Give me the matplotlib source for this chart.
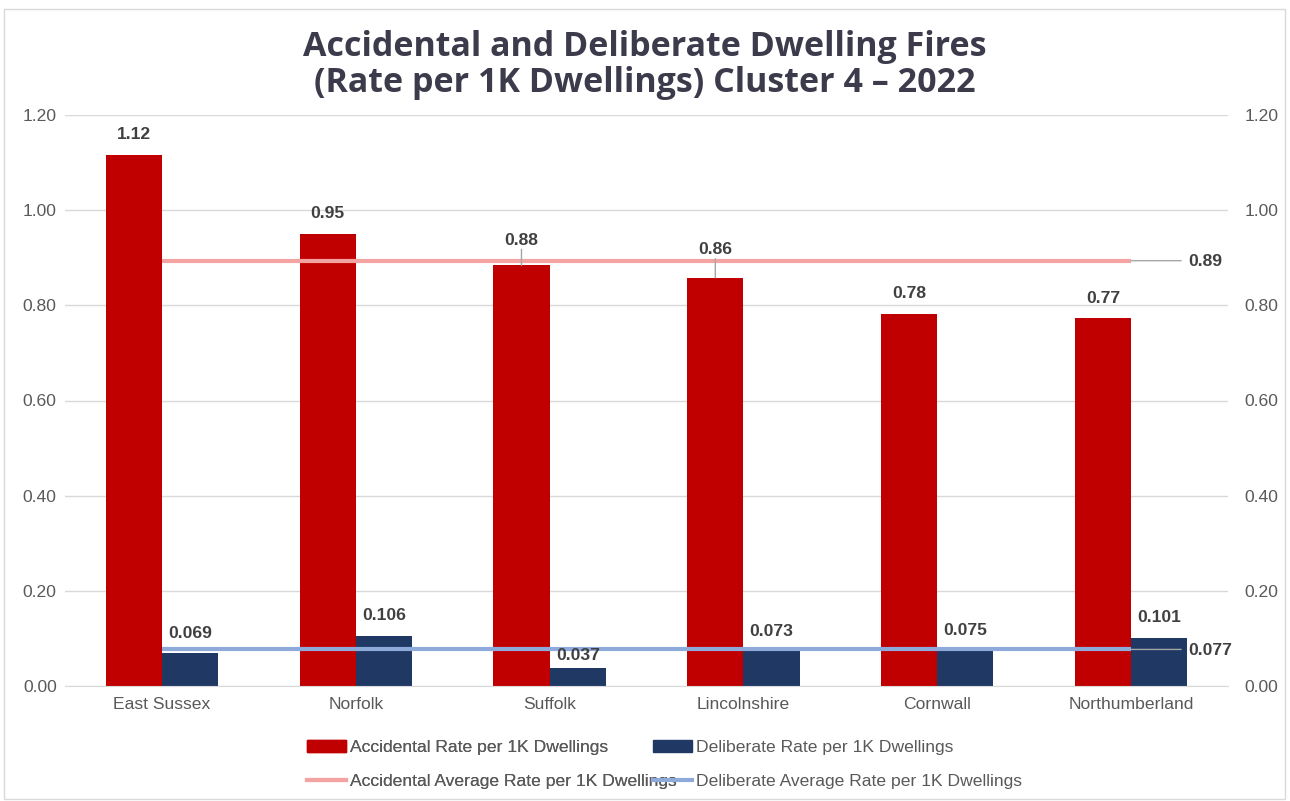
import matplotlib
matplotlib.use("Agg")
import matplotlib.pyplot as plt
from matplotlib.patches import Rectangle, Patch
from matplotlib.lines import Line2D
import numpy as np

# ---- data ----
areas = ["East Sussex", "Norfolk", "Suffolk", "Lincolnshire", "Cornwall", "Northumberland"]
accidental = [1.116, 0.950, 0.884, 0.858, 0.782, 0.773]
deliberate = [0.069, 0.106, 0.037, 0.073, 0.075, 0.101]
y_ticks = [0.0, 0.2, 0.4, 0.6, 0.8, 1.0, 1.2]

acc_avg = float(np.mean(accidental))
del_avg = float(np.mean(deliberate))

# ---- style ----
RED = "#c00000"
NAVY = "#1f3864"
PINK = "#f4a3a3"
LIGHTBLUE = "#8eaadb"
TXT = "#595959"
LBL = "#404040"
FS = 12.6
plt.rcParams["font.family"] = ["Liberation Sans", "DejaVu Sans"]

W, H = 1290, 801
fig = plt.figure(figsize=(W / 100, H / 100), dpi=100)

# outer chart border
fig.patches.append(Rectangle((4 / W, 2 / H), 1281 / W, 790 / H, transform=fig.transFigure,
                             fill=False, edgecolor="#d9d9d9", linewidth=1))

ax = fig.add_axes([65 / W, 1 - 686 / H, (1228 - 65) / W, 571 / H])
x = np.arange(len(areas))
bw = 0.29

ax.bar(x - bw / 2, accidental, width=bw, color=RED, zorder=2)
ax.bar(x + bw / 2, deliberate, width=bw, color=NAVY, zorder=2)

ax.plot([x[0], x[-1]], [acc_avg, acc_avg], color=PINK, lw=3, zorder=3, solid_capstyle="butt")
ax.plot([x[0], x[-1]], [del_avg, del_avg], color=LIGHTBLUE, lw=3, zorder=3, solid_capstyle="butt")

ax.set_xlim(-0.5, len(areas) - 0.5)
ax.set_ylim(0, 1.2)
ax.set_yticks(y_ticks)
ax.set_yticklabels([f"{t:.2f}" for t in y_ticks])
ax.set_xticks(x)
ax.set_xticklabels(areas)
ax.tick_params(axis="both", length=0, labelsize=FS, colors=TXT)
ax.tick_params(axis="y", pad=6)
ax.tick_params(axis="x", pad=8)
ax.grid(axis="y", color="#d9d9d9", linewidth=1, zorder=0)
ax.set_axisbelow(True)
for s in ["top", "left", "right"]:
    ax.spines[s].set_visible(False)
ax.spines["bottom"].set_color("#d9d9d9")

ax2 = ax.twinx()
ax2.set_ylim(0, 1.2)
ax2.set_yticks(y_ticks)
ax2.set_yticklabels([f"{t:.2f}" for t in y_ticks])
ax2.tick_params(axis="y", length=0, labelsize=FS, colors=TXT, pad=12)
for s in ax2.spines.values():
    s.set_visible(False)

# ---- value labels ----
lift_acc = {2: 25, 3: 28}
for i, v in enumerate(accidental):
    off = lift_acc.get(i, 20)
    ax.annotate(f"{v:.2f}", (x[i] - bw / 2, v), xytext=(0, off), textcoords="offset pixels",
                ha="center", va="center", fontsize=FS, fontweight="bold", color=LBL, zorder=5)
    if i in lift_acc:
        ax.annotate("", (x[i] - bw / 2, v), xytext=(0, off - 9), textcoords="offset pixels",
                    arrowprops=dict(arrowstyle="-", color="#a6a6a6", lw=1, shrinkA=0, shrinkB=0))

lift_del = {2: 13}
for i, v in enumerate(deliberate):
    off = lift_del.get(i, 20)
    ax.annotate(f"{v:.3f}", (x[i] + bw / 2, v), xytext=(0, off), textcoords="offset pixels",
                ha="center", va="center", fontsize=FS, fontweight="bold", color=LBL, zorder=5)

# average labels with leader lines
for val, fmt in [(acc_avg, "{:.2f}"), (del_avg, "{:.3f}")]:
    ax.annotate("", (x[-1], val), xytext=(50, 0), textcoords="offset pixels",
                arrowprops=dict(arrowstyle="-", color="#a6a6a6", lw=1, shrinkA=0, shrinkB=0),
                annotation_clip=False)
    ax.annotate(fmt.format(val), (x[-1], val), xytext=(57, -1), textcoords="offset pixels",
                ha="left", va="center", fontsize=FS, fontweight="bold", color=LBL,
                annotation_clip=False, zorder=5)

# ---- title ----
fig.text(0.5, 1 - 65 / H, "Accidental and Deliberate Dwelling Fires\n(Rate per 1K Dwellings) Cluster 4 \u2013 2022",
         ha="center", va="center", fontsize=24.5, fontweight="bold", color="#3b3b4b",
         family=["Open Sans", "DejaVu Sans"], linespacing=1.05)

# ---- legends ----
leg_kw = dict(frameon=False, fontsize=FS, labelcolor=TXT, handlelength=2.2,
              handletextpad=0.25, labelspacing=1.05, borderpad=0, borderaxespad=0)
h1 = [Patch(color=RED), Line2D([], [], color=PINK, lw=3)]
l1 = ["Accidental Rate per 1K Dwellings", "Accidental Average Rate per 1K Dwellings"]
h2 = [Patch(color=NAVY), Line2D([], [], color=LIGHTBLUE, lw=3)]
l2 = ["Deliberate Rate per 1K Dwellings", "Deliberate Average Rate per 1K Dwellings"]
lg1 = fig.legend(h1, l1, loc="upper left", bbox_to_anchor=(307 / W, 1 - 740 / H), **leg_kw)
fig.legend(h2, l2, loc="upper left", bbox_to_anchor=(653 / W, 1 - 740 / H), **leg_kw)
fig.add_artist(lg1)

fig.savefig("out.png", dpi=100, facecolor="white")
